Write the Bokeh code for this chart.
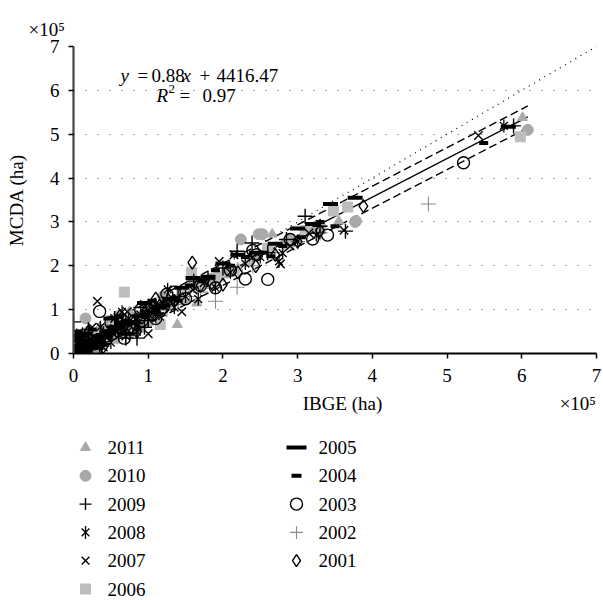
from bokeh.plotting import figure
from bokeh.models import Range1d, FixedTicker, Label, LinearAxis, Title
from bokeh.core.properties import value
from bokeh.layouts import column
from bokeh.embed import file_html
from bokeh.resources import INLINE
import math

# ---------------- data (values in units of 10^5 ha) ----------------
years = ["2011", "2010", "2009", "2008", "2007", "2006",
         "2005", "2004", "2003", "2002", "2001"]

ibge_2011 = [0.02, 0.05, 0.08, 0.12, 0.15, 0.2, 0.25, 0.3, 0.38, 0.45, 0.52, 0.6, 0.7, 0.8, 0.9,
             1.05, 1.2, 1.39, 1.5, 1.65, 1.8, 2.0, 2.2, 2.45, 2.66, 2.9, 3.2, 3.55, 6.01,
             0.1, 0.18, 0.35, 0.55, 0.75, 1.0]
mcda_2011 = [0.05, 0.1, 0.06, 0.15, 0.2, 0.18, 0.3, 0.28, 0.42, 0.4, 0.55, 0.5, 0.62, 0.78, 0.75,
             0.95, 1.05, 0.66, 1.2, 1.15, 1.55, 1.8, 1.95, 2.2, 2.72, 2.5, 2.8, 3.02, 5.38,
             0.3, 0.05, 0.6, 0.3, 0.95, 0.7]

ibge_2010 = [0.01, 0.04, 0.07, 0.1, 0.13, 0.16, 0.22, 0.28, 0.35, 0.42, 0.5, 0.58, 0.66, 0.75, 0.85,
             0.95, 1.1, 1.25, 1.45, 1.6, 1.85, 2.05, 2.24, 2.48, 2.53, 2.9, 3.3, 3.78, 3.77, 6.08,
             0.05, 0.2, 0.32, 0.6, 0.9, 1.2]
mcda_2010 = [0.03, 0.08, 0.12, 0.1, 0.22, 0.8, 0.25, 0.35, 0.38, 0.5, 0.48, 0.6, 0.65, 0.7, 0.85,
             0.9, 1.0, 1.1, 1.3, 1.6, 1.7, 1.85, 2.6, 2.72, 2.72, 2.6, 2.9, 3.02, 3.0, 5.10,
             0.35, 0.5, 0.15, 0.85, 0.6, 1.3]

ibge_2009 = [0.0, 0.03, 0.06, 0.09, 0.12, 0.18, 0.24, 0.3, 0.4, 0.5, 0.6, 0.7, 0.82, 0.85, 0.95,
             1.1, 1.25, 1.4, 1.61, 1.8, 2.0, 2.19, 2.39, 2.6, 2.85, 3.1, 3.3, 3.64, 5.89,
             0.04, 0.1, 0.2, 0.35, 0.55, 0.7, 0.9, 1.0]
mcda_2009 = [0.72, 0.05, 0.1, 0.15, 0.12, 0.2, 0.3, 0.25, 0.45, 0.5, 0.62, 0.7, 0.75, 0.35, 0.6,
             1.1, 1.2, 1.3, 1.65, 1.7, 1.95, 2.33, 2.52, 2.3, 2.6, 3.13, 2.9, 2.79, 5.19,
             0.4, 0.3, 0.55, 0.1, 0.8, 0.35, 1.05, 0.75]

ibge_2008 = [0.02, 0.05, 0.08, 0.11, 0.14, 0.2, 0.26, 0.33, 0.4, 0.48, 0.56, 0.65, 0.74, 0.85, 0.95,
             1.05, 1.2, 1.26, 1.35, 1.5, 1.67, 1.9, 2.1, 2.3, 2.5, 2.75, 2.8, 3.0, 3.25, 5.76,
             0.03, 0.12, 0.22, 0.36, 0.5, 0.65, 0.85, 1.1]
mcda_2008 = [0.04, 0.09, 0.07, 0.16, 0.12, 0.22, 0.28, 0.3, 0.42, 0.46, 0.55, 0.62, 0.8, 0.78, 0.85,
             1.0, 1.15, 1.46, 1.05, 1.3, 1.24, 1.5, 1.85, 2.05, 2.2, 2.1, 2.29, 2.55, 2.7, 5.19,
             0.3, 0.45, 0.08, 0.6, 0.25, 0.95, 0.5, 0.85]

ibge_2007 = [0.01, 0.04, 0.07, 0.1, 0.15, 0.2, 0.27, 0.32, 0.38, 0.46, 0.55, 0.64, 0.72, 0.8, 0.9,
             1.0, 1.15, 1.3, 1.45, 1.6, 1.75, 1.95, 2.15, 2.4, 2.77, 2.9, 3.15, 3.62, 5.42,
             0.05, 0.15, 0.25, 0.4, 0.55, 0.7, 0.95, 1.15]
mcda_2007 = [0.02, 0.06, 0.12, 0.08, 0.18, 0.14, 0.25, 1.19, 0.36, 0.4, 0.52, 0.58, 0.95, 0.7, 0.88,
             0.45, 1.1, 1.2, 0.95, 1.45, 1.62, 2.1, 2.25, 2.2, 2.04, 2.45, 2.75, 2.81, 4.97,
             0.45, 0.35, 0.6, 0.15, 0.8, 0.4, 1.05, 0.85]

ibge_2006 = [0.02, 0.06, 0.1, 0.14, 0.2, 0.26, 0.34, 0.42, 0.5, 0.6, 0.68, 0.78, 0.9, 1.0, 1.16,
             1.3, 1.45, 1.58, 1.75, 1.95, 2.15, 2.35, 2.6, 2.85, 3.1, 3.48, 3.67, 5.98,
             0.08, 0.3, 0.5, 0.8, 1.05]
mcda_2006 = [0.05, 0.1, 0.14, 0.2, 0.22, 0.3, 0.32, 0.45, 0.5, 0.55, 1.40, 0.72, 0.8, 0.95, 0.66,
             1.2, 1.4, 1.85, 1.6, 1.75, 1.9, 2.1, 2.4, 2.5, 2.8, 3.25, 3.34, 4.94,
             0.4, 0.1, 0.75, 0.5, 1.1]

ibge_2005 = [0.03, 0.06, 0.1, 0.15, 0.2, 0.28, 0.35, 0.45, 0.55, 0.65, 0.75, 0.88, 1.0, 1.15,
             1.3, 1.45, 1.6, 1.8, 2.0, 2.2, 2.45, 2.7, 3.0, 3.2, 3.44, 3.77, 5.82,
             0.05, 0.15, 0.3, 0.5, 0.7, 0.95]
mcda_2005 = [0.05, 0.1, 0.12, 0.2, 0.25, 0.3, 0.4, 0.5, 0.6, 0.7, 0.72, 0.85, 0.95, 1.05,
             1.25, 1.5, 1.72, 1.75, 2.05, 2.25, 2.3, 2.5, 2.85, 2.95, 3.41, 3.55, 5.17,
             0.35, 0.45, 0.15, 0.8, 0.45, 1.15]

ibge_2004 = [0.02, 0.05, 0.09, 0.13, 0.18, 0.24, 0.3, 0.38, 0.46, 0.55, 0.64, 0.74, 0.84, 0.96,
             1.1, 1.24, 1.4, 1.55, 1.72, 1.9, 2.1, 2.3, 2.55, 2.64, 2.8, 3.05, 3.3, 3.5, 5.49,
             0.04, 0.12, 0.25, 0.42, 0.6, 0.85, 1.05]
mcda_2004 = [0.04, 0.08, 0.1, 0.16, 0.2, 0.25, 0.26, 0.38, 0.42, 0.5, 0.6, 0.68, 0.7, 0.88,
             1.0, 1.1, 1.2, 1.55, 1.65, 1.9, 2.0, 2.2, 2.3, 2.22, 2.45, 2.65, 3.0, 2.9, 4.80,
             0.3, 0.4, 0.55, 0.2, 0.85, 0.55, 1.2]

ibge_2003 = [0.01, 0.04, 0.08, 0.12, 0.16, 0.22, 0.28, 0.35, 0.44, 0.52, 0.6, 0.7, 0.8, 0.92,
             1.05, 1.2, 1.25, 1.35, 1.5, 1.7, 1.9, 2.1, 2.3, 2.4, 2.45, 2.6, 2.9, 3.2, 3.4, 5.22,
             0.06, 0.18, 0.3, 0.5, 0.68, 0.9, 1.1]
mcda_2003 = [0.02, 0.05, 0.09, 0.14, 0.15, 0.2, 0.22, 0.96, 0.4, 0.45, 0.52, 0.65, 0.6, 0.75,
             0.9, 1.05, 1.35, 1.4, 1.25, 1.55, 1.5, 1.9, 1.7, 2.35, 2.25, 1.69, 2.6, 2.61, 2.7, 4.35,
             0.4, 0.35, 0.05, 0.7, 0.35, 1.0, 0.8]

ibge_2002 = [0.02, 0.05, 0.1, 0.15, 0.2, 0.27, 0.35, 0.42, 0.5, 0.6, 0.7, 0.82, 0.95, 1.1,
             1.25, 1.4, 1.55, 1.7, 1.9, 2.19, 2.4, 2.7, 3.0, 3.3, 4.75,
             0.06, 0.25, 0.45, 0.7, 1.0]
mcda_2002 = [0.03, 0.06, 0.09, 0.13, 0.2, 0.24, 0.28, 0.4, 0.42, 0.5, 0.58, 0.68, 0.78, 0.9,
             1.0, 1.12, 1.3, 1.4, 1.19, 1.51, 2.0, 2.3, 2.55, 2.75, 3.41,
             0.35, 0.05, 0.65, 0.4, 0.75]

ibge_2001 = [0.02, 0.06, 0.1, 0.15, 0.22, 0.3, 0.38, 0.48, 0.58, 0.68, 0.8, 0.92, 1.05, 1.2,
             1.35, 1.59, 1.7, 1.85, 2.0, 2.2, 2.44, 2.7, 3.0, 3.3, 3.88,
             0.05, 0.2, 0.4, 0.62, 0.85, 1.1]
mcda_2001 = [0.04, 0.08, 0.12, 0.16, 0.22, 0.3, 0.35, 0.45, 0.5, 0.62, 0.7, 0.82, 0.95, 1.0,
             1.2, 2.07, 1.55, 1.6, 1.57, 1.85, 1.99, 2.25, 2.55, 2.8, 3.36,
             0.38, 0.5, 0.15, 0.85, 0.5, 1.25]

# regression (ha): y = 0.88x + 4416.47 ; R^2 = 0.97
slope = 0.88
intercept_ha = 4416.47
band_ha = 25000.0          # half-width of dashed band (ha)
fit_x_max = 6.08           # x extent of fit lines (10^5 ha)
axis_ticks = [0, 1, 2, 3, 4, 5, 6, 7]
scale = 1e5

FONT = "Liberation Serif"
FS = "19px"

# ---------------- marker styles ----------------
GRAY1, GRAY2, GRAY3 = "#a9a9a9", "#bdbdbd", "#8a8a8a"
styles = {
    "2011": [dict(marker="triangle", size=10, fill_color=GRAY1, line_color=GRAY1, line_width=1)],
    "2010": [dict(marker="circle", size=11, fill_color=GRAY1, line_color=GRAY1, line_width=1)],
    "2009": [dict(marker="cross", size=15, line_color="black", line_width=1.4)],
    "2008": [dict(marker="x", size=11, line_color="black", line_width=1.3),
             dict(marker="dash", size=13, angle=math.pi / 2, line_color="black", line_width=1.3)],
    "2007": [dict(marker="x", size=12, line_color="black", line_width=1.4)],
    "2006": [dict(marker="square", size=10, fill_color=GRAY2, line_color=GRAY2, line_width=1)],
    "2005": [dict(marker="dash", size=15, line_color="black", line_width=4)],
    "2004": [dict(marker="dash", size=9, line_color="black", line_width=4)],
    "2003": [dict(marker="circle", size=12, fill_color=None, line_color="black", line_width=1.4)],
    "2002": [dict(marker="cross", size=15, line_color=GRAY3, line_width=1.1)],
    "2001": [dict(marker="diamond", size=13, fill_color=None, line_color="black", line_width=1.4)],
}
legend_size = {"2005": 20, "2004": 10, "2009": 12, "2002": 13, "2007": 11, "2001": 12, "2003": 12}

def draw_series(fig, yr, xs, ys, size=None):
    for spec in styles[yr]:
        s = dict(spec)
        if size is not None:
            s["size"] = size
        fig.scatter(xs, ys, **s)

# ---------------- main figure ----------------
W, H = 603, 420
FL, FR, FT, FB = 73, 7, 46, 67   # borders -> frame box
p = figure(width=W, height=H, output_backend="svg", toolbar_location=None,
           x_range=Range1d(0, 7), y_range=Range1d(0, 7),
           min_border_left=FL, min_border_right=FR, min_border_top=FT, min_border_bottom=FB)
p.outline_line_color = None
p.background_fill_color = "white"
p.xgrid.grid_line_color = None
p.ygrid.grid_line_color = "#444444"
p.ygrid.grid_line_dash = "1 11"
p.ygrid.grid_line_width = 1.2

for ax in (p.xaxis, p.yaxis):
    ax.ticker = FixedTicker(ticks=axis_ticks)
    ax.minor_tick_line_color = None
    ax.major_tick_in = 0
    ax.major_tick_out = 5
    ax.major_tick_line_color = "black"
    ax.major_tick_line_width = 1.5
    ax.major_label_text_font = FONT
    ax.major_label_text_font_size = FS
    ax.major_label_text_color = "black"
    ax.axis_label_text_font = FONT
    ax.axis_label_text_font_size = FS
    ax.axis_label_text_font_style = "normal"
    ax.axis_label_text_color = "black"
p.xaxis.axis_line_color = "black"
p.xaxis.axis_line_width = 1.8
p.yaxis.axis_line_color = "#444444"
p.yaxis.axis_line_width = 2.2
p.yaxis.axis_label = "MCDA (ha)"
p.xaxis.major_label_standoff = 10
p.yaxis.major_label_standoff = 9
p.yaxis.axis_label_standoff = 20

# second bottom axis carrying the x label and the x multiplier
xlab_pos = 3.6
xmult_pos = 6.75
ax2 = LinearAxis(ticker=FixedTicker(ticks=[xlab_pos, xmult_pos]),
                 major_label_overrides={xlab_pos: "IBGE (ha)", xmult_pos: "\u00d710\u2075"},
                 axis_line_color=None, major_tick_line_color=None, minor_tick_line_color=None,
                 major_tick_in=0, major_tick_out=0, major_label_standoff=8,
                 major_label_text_font=FONT, major_label_text_font_size=FS,
                 major_label_text_color="black")
p.add_layout(ax2, "below")

# y multiplier as a left-aligned title above the frame
p.add_layout(Title(text="\u00d710\u2075", align="left", offset=-45, standoff=14,
                   text_font=FONT, text_font_size=FS, text_font_style="normal",
                   text_color="black"), "above")

# 1:1 dotted line
p.line([axis_ticks[0], axis_ticks[-1]], [axis_ticks[0], axis_ticks[-1]],
       line_color="black", line_dash="1 5", line_width=1.2)

# regression line and band
fx = [0, fit_x_max]
fy = [slope * v + intercept_ha / scale for v in fx]
p.line(fx, fy, line_color="black", line_width=1.4)
p.line(fx, [v + band_ha / scale for v in fy], line_color="black", line_width=1.4, line_dash="8 4")
p.line(fx, [v - band_ha / scale for v in fy], line_color="black", line_width=1.4, line_dash="8 4")

data = {
    "2011": (ibge_2011, mcda_2011), "2010": (ibge_2010, mcda_2010),
    "2009": (ibge_2009, mcda_2009), "2008": (ibge_2008, mcda_2008),
    "2007": (ibge_2007, mcda_2007), "2006": (ibge_2006, mcda_2006),
    "2005": (ibge_2005, mcda_2005), "2004": (ibge_2004, mcda_2004),
    "2003": (ibge_2003, mcda_2003), "2002": (ibge_2002, mcda_2002),
    "2001": (ibge_2001, mcda_2001),
}
draw_order = ["2011", "2010", "2006", "2002", "2001", "2003", "2004", "2005", "2007", "2008", "2009"]
for yr in draw_order:
    xs, ys = data[yr]
    draw_series(p, yr, xs, ys)

# equation texts (positions in page px, converted to data coordinates)
FW, FH = W - FL - FR, 307
def to_data(px, py):
    return (px - FL) / FW * 7, (FT + FH - py) / FH * 7

def add_text(px, py, text, style="normal", size="19px"):
    x, y = to_data(px, py)
    p.add_layout(Label(x=x, y=y, text=text, text_font=FONT, text_font_size=size,
                       text_font_style=style, text_color="black",
                       text_baseline="alphabetic", text_align="left"))

add_text(120, 75, "y", "italic")
add_text(137, 75, "=")
add_text(151, 75, "0.88")
add_text(182, 75, "x", "italic")
add_text(199, 75, "+")
add_text(216, 75, "4416.47")
add_text(156, 95, "R", "italic")
add_text(168, 88, "2", size="13px")
add_text(179, 95, "=")
add_text(202, 95, "0.97")

# ---------------- legend figure (two columns, six rows) ----------------
# its frame is aligned with the main frame, so its x range spans the page px of that frame
LH = 600 - H
lg = figure(width=W, height=LH, output_backend="svg", toolbar_location=None,
            x_range=Range1d(FL, W - FR), y_range=Range1d(LH, 0),
            x_axis_location=None, y_axis_location=None,
            min_border_left=FL, min_border_right=FR, min_border_top=0, min_border_bottom=0)
lg.grid.visible = False
lg.outline_line_color = None
col_x = [85, 296]
row_y0, row_dy, label_dx = 27, 28.3, 22
lab_x, lab_y = [], []
for i, yr in enumerate(years):
    cx = col_x[i // 6]
    cy = row_y0 + (i % 6) * row_dy
    draw_series(lg, yr, [cx], [cy], size=legend_size.get(yr))
    lab_x.append(cx + label_dx)
    lab_y.append(cy)
lg.text(x=lab_x, y=lab_y, text=years, text_font=value(FONT), text_font_size=value(FS),
        text_color="black", text_baseline="middle", text_align="left")

layout = column(p, lg, spacing=0)
open("out.html", "w").write(file_html(layout, INLINE))
